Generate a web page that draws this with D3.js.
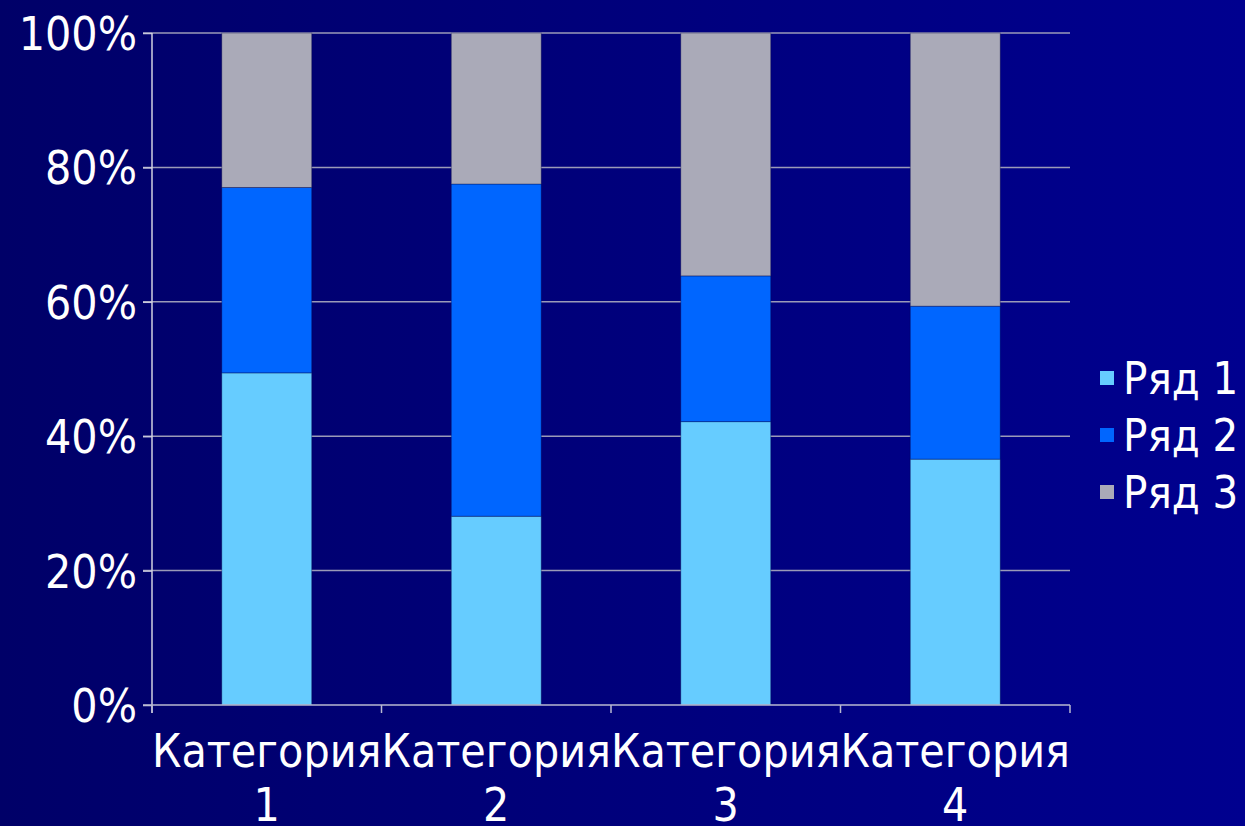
<!DOCTYPE html>
<html>
<head>
<meta charset="utf-8">
<script src="https://cdn.jsdelivr.net/npm/d3@7"></script>
<style>
  html, body { margin: 0; padding: 0; overflow: hidden; }
  svg text { font-family: "DejaVu Sans Condensed", "DejaVu Sans", sans-serif; font-stretch: condensed; fill: #fff; }
</style>
</head>
<body>
<svg id="chart" width="1245" height="826"></svg>
<script>
const categories = ['Категория 1', 'Категория 2', 'Категория 3', 'Категория 4'];
const seriesNames = ['Ряд 1', 'Ряд 2', 'Ряд 3'];
const row1 = [4.3, 2.5, 3.5, 4.5];
const row2 = [2.4, 4.4, 1.8, 2.8];
const row3 = [2, 2, 3, 5];
const yTicks = [0, 0.2, 0.4, 0.6, 0.8, 1];
const colors = ['#66ccff', '#0066ff', '#aaaab8'];

const svg = d3.select('#chart');
const W = 1245, H = 826;
const m = { left: 152, right: 175, top: 33, bottom: 121 };

// background
const grad = svg.append('defs').append('linearGradient')
  .attr('id', 'bg').attr('x1', 0).attr('x2', 1).attr('y1', 0).attr('y2', 0);
grad.append('stop').attr('offset', 0).attr('stop-color', '#000068');
grad.append('stop').attr('offset', 1).attr('stop-color', '#00008f');
svg.append('rect').attr('width', W).attr('height', H).attr('fill', 'url(#bg)');

const table = categories.map((c, i) => ({ cat: c, 'Ряд 1': row1[i], 'Ряд 2': row2[i], 'Ряд 3': row3[i] }));
const stacked = d3.stack().keys(seriesNames).offset(d3.stackOffsetExpand)(table);

const x = d3.scaleBand().domain(categories)
  .range([m.left, W - m.right]).paddingInner(0.608).paddingOuter(0.304);
const xEdge = d3.scaleBand().domain(categories).range([m.left, W - m.right]);
const y = d3.scaleLinear().domain([0, 1]).range([H - m.bottom, m.top]);

// gridlines
svg.append('g').selectAll('line').data(yTicks.slice(1)).join('line')
  .attr('x1', m.left - 9).attr('x2', W - m.right)
  .attr('y1', d => y(d)).attr('y2', d => y(d))
  .attr('stroke', '#9a9ab8').attr('stroke-width', 1.5);

// bars
svg.append('g').selectAll('g').data(stacked).join('g')
  .attr('fill', (d, i) => colors[i])
  .selectAll('rect').data(d => d).join('rect')
  .attr('x', d => x(d.data.cat))
  .attr('width', x.bandwidth())
  .attr('y', d => y(d[1]))
  .attr('height', d => y(d[0]) - y(d[1]))
  .attr('stroke', 'rgba(0,0,60,0.35)').attr('stroke-width', 1);

// y axis
const yAxis = svg.append('g').attr('transform', `translate(${m.left},0)`)
  .call(d3.axisLeft(y).tickValues(yTicks).tickFormat(d3.format('.0%')).tickSize(9).tickPadding(6));
yAxis.select('.domain').remove();
yAxis.selectAll('.tick line').attr('stroke', '#c8c8dc').attr('stroke-width', 1.5);
yAxis.selectAll('.tick text').attr('font-size', 46).attr('dy', '0.36em').attr('fill', '#fff');
svg.append('line').attr('x1', m.left).attr('x2', m.left)
  .attr('y1', m.top).attr('y2', H - m.bottom + 8)
  .attr('stroke', '#d0d0e0').attr('stroke-width', 1.5);

// x axis
const x0 = H - m.bottom;
svg.append('line').attr('x1', m.left - 9).attr('x2', W - m.right)
  .attr('y1', x0).attr('y2', x0).attr('stroke', '#b8b8d0').attr('stroke-width', 1.5);
const edges = categories.map(c => xEdge(c)).concat([W - m.right]);
svg.append('g').selectAll('line').data(edges).join('line')
  .attr('x1', d => d).attr('x2', d => d).attr('y1', x0).attr('y2', x0 + 8)
  .attr('stroke', '#b8b8d0').attr('stroke-width', 1.5);

const xl = svg.append('g').selectAll('text').data(categories).join('text')
  .attr('x', d => xEdge(d) + xEdge.bandwidth() / 2)
  .attr('text-anchor', 'middle').attr('font-size', 46);
xl.append('tspan').attr('x', d => xEdge(d) + xEdge.bandwidth() / 2).attr('y', 767)
  .text(d => d.split(' ')[0]);
xl.append('tspan').attr('x', d => xEdge(d) + xEdge.bandwidth() / 2).attr('y', 821)
  .text(d => d.split(' ')[1]);

// legend
const lg = svg.append('g').selectAll('g').data(seriesNames).join('g')
  .attr('transform', (d, i) => `translate(1100,${378 + i * 57})`);
lg.append('rect').attr('x', 0).attr('y', -7).attr('width', 14).attr('height', 14)
  .attr('fill', (d, i) => colors[i]);
lg.append('text').attr('x', 23).attr('dy', '0.36em').attr('font-size', 45).text(d => d);
</script>
</body>
</html>
